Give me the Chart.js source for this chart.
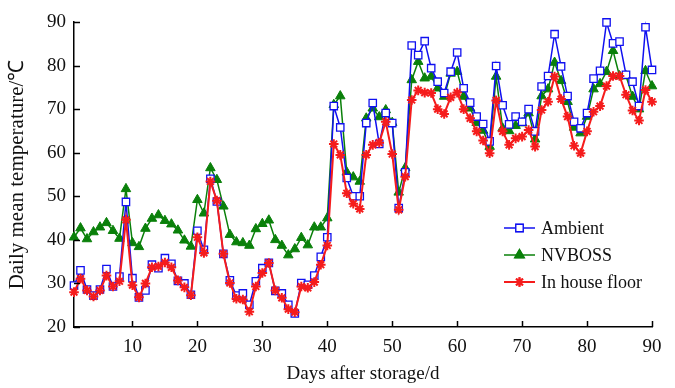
<!DOCTYPE html>
<html>
<head>
<meta charset="utf-8">
<script src="https://cdn.jsdelivr.net/npm/chart.js@4/dist/chart.umd.min.js"></script>
<style>
  html, body { margin: 0; padding: 0; background: #fff; }
  #wrap { width: 675px; height: 388px; }
</style>
</head>
<body>
<div id="wrap"><canvas id="graficLine"></canvas></div>
<script>
var days = [1,2,3,4,5,6,7,8,9,10,11,12,13,14,15,16,17,18,19,20,
  21,22,23,24,25,26,27,28,29,30,31,32,33,34,35,36,37,38,39,40,
  41,42,43,44,45,46,47,48,49,50,51,52,53,54,55,56,57,58,59,60,
  61,62,63,64,65,66,67,68,69,70,71,72,73,74,75,76,77,78,79,80,
  81,82,83,84,85,86,87,88,89,90];

var ambient = [29.5,33.0,28.6,27.2,28.6,33.3,29.3,31.6,48.7,31.2,
  26.8,28.4,34.3,33.5,35.8,34.5,30.6,30.0,27.4,42.1,
  37.7,54.0,48.8,36.8,30.7,27.2,27.7,25.1,30.5,33.5,
  34.7,28.3,27.7,25.1,23.1,30.1,29.7,31.8,36.1,40.6,
  70.7,65.8,54.2,50.0,50.0,66.8,71.4,62.0,69.1,66.8,
  47.3,55.5,84.6,82.4,85.6,79.4,76.3,73.7,78.6,83.0,
  74.8,71.5,68.3,66.6,62.6,79.9,70.9,66.5,68.3,67.1,
  70.0,64.9,75.2,77.6,87.2,79.8,73.0,67.1,65.6,69.1,
  77.0,78.8,89.9,85.1,85.5,77.9,76.3,70.7,88.8,79.0];

var nvboss = [40.6,42.7,40.2,41.8,42.9,43.9,42.1,40.3,51.7,39.3,
  38.4,42.6,44.9,45.7,44.4,43.6,42.2,39.9,38.5,49.2,
  46.1,56.5,53.8,47.7,41.2,39.5,39.3,38.7,42.5,43.7,
  44.5,40.0,38.7,36.5,37.9,40.5,38.8,42.9,42.9,45.0,
  71.0,73.0,55.5,54.4,53.4,67.9,70.2,68.2,69.8,66.9,
  50.9,56.5,76.7,80.9,77.1,77.5,74.8,72.9,78.2,78.6,
  72.9,70.2,66.9,65.1,61.4,77.5,65.6,65.0,66.2,66.8,
  69.1,63.1,73.0,74.6,80.7,76.5,71.7,65.8,64.5,68.3,
  74.6,75.8,78.6,83.4,77.6,77.6,72.9,70.0,78.8,75.3];

var houseFloor = [28.0,31.1,28.4,27.0,28.4,31.8,29.3,30.5,44.6,29.6,
  26.8,30.0,33.7,33.9,34.8,33.7,30.7,29.1,27.3,40.6,
  37.0,53.4,49.0,36.8,30.1,26.5,26.3,23.5,29.3,32.4,
  34.7,28.4,26.7,24.1,23.4,29.3,29.0,30.3,34.3,38.7,
  62.0,59.5,50.7,48.3,47.1,59.5,61.8,62.3,67.1,59.7,
  46.9,54.5,72.1,74.3,73.8,73.7,70.0,68.9,72.7,73.8,
  70.0,67.9,64.9,62.8,59.9,72.0,64.9,61.8,63.3,63.7,
  65.2,61.4,69.8,71.7,77.5,72.3,68.3,61.6,59.9,64.9,
  69.4,70.7,75.3,77.6,77.6,73.3,69.7,67.4,74.4,71.7];

var seriesNames = ['Ambient', 'NVBOSS', 'In house floor'];

function toPoints(values) {
  return values.map(function(v, i){ return {x: days[i], y: v}; });
}

var serif = '"Liberation Serif", "Times New Roman", serif';

// ticks on the inside of the axes, like the original figure
var innerTicks = {
  id: 'innerTicks',
  afterDraw: function(chart) {
    var ctx = chart.ctx;
    var xs = chart.scales.x, ys = chart.scales.y;
    var area = chart.chartArea;
    ctx.save();
    ctx.strokeStyle = '#000';
    ctx.lineWidth = 1.5;
    xs.ticks.forEach(function(t){
      var px = Math.round(xs.getPixelForValue(t.value)) + 0.5;
      ctx.beginPath();
      ctx.moveTo(px, area.bottom);
      ctx.lineTo(px, area.bottom - 6);
      ctx.stroke();
    });
    ys.ticks.forEach(function(t){
      var py = Math.round(ys.getPixelForValue(t.value)) + 0.5;
      ctx.beginPath();
      ctx.moveTo(area.left, py);
      ctx.lineTo(area.left + 6, py);
      ctx.stroke();
    });
    ctx.restore();
  }
};

// legend drawn inside the plot, lower right
var insideLegend = {
  id: 'insideLegend',
  afterDraw: function(chart) {
    var ctx = chart.ctx;
    var x0 = 504, x1 = 535, y = 228, step = 27;
    var order = [0, 1, 2];
    ctx.save();
    ctx.font = '18px ' + serif;
    ctx.textBaseline = 'middle';
    order.forEach(function(i, k){
      var ds = chart.data.datasets[i];
      var yy = y + k * step;
      ctx.strokeStyle = ds.borderColor;
      ctx.lineWidth = ds.borderWidth;
      ctx.beginPath();
      ctx.moveTo(x0, yy);
      ctx.lineTo(x1, yy);
      ctx.stroke();
      Chart.helpers.drawPoint(ctx, {
        pointStyle: ds.pointStyle,
        radius: ds.pointRadius,
        borderWidth: ds.pointBorderWidth
      }, (x0 + x1) / 2, yy);
      ctx.fillStyle = ds.pointBackgroundColor;
      ctx.strokeStyle = ds.pointBorderColor;
      ctx.lineWidth = ds.pointBorderWidth;
      ctx.fill();
      ctx.stroke();
      ctx.fillStyle = '#111';
      ctx.fillText(ds.label, x1 + 6, yy + 1);
    });
    ctx.restore();
  }
};

var grafic = document.getElementById('graficLine');

var cxt = new Chart(grafic, {
  type: 'line',
  data: {
    datasets: [
      {
        label: seriesNames[0],
        data: toPoints(ambient),
        borderColor: '#1010f0',
        borderWidth: 1.5,
        pointStyle: 'rect',
        pointRadius: 5.2,
        pointBorderWidth: 1.3,
        pointBorderColor: '#1010f0',
        pointBackgroundColor: '#ffffff',
        clip: 10,
        order: 1
      },
      {
        label: seriesNames[1],
        data: toPoints(nvboss),
        borderColor: '#0a800a',
        borderWidth: 1.5,
        pointStyle: 'triangle',
        pointRadius: 5.5,
        pointBorderWidth: 1,
        pointBorderColor: '#0a800a',
        pointBackgroundColor: '#0a800a',
        clip: 10,
        order: 2
      },
      {
        label: seriesNames[2],
        data: toPoints(houseFloor),
        borderColor: '#f51c1c',
        borderWidth: 2,
        pointStyle: 'star',
        pointRadius: 4.8,
        pointBorderWidth: 2,
        pointBorderColor: '#f51c1c',
        pointBackgroundColor: '#f51c1c',
        clip: 10,
        order: 0
      }
    ]
  },
  options: {
    responsive: true,
    maintainAspectRatio: false,
    animation: false,
    events: [],
    layout: { padding: { left: 0, right: 23, top: 22, bottom: 0 } },
    elements: { line: { tension: 0 } },
    plugins: {
      legend: { display: false },
      tooltip: { enabled: false }
    },
    scales: {
      x: {
        type: 'linear',
        min: 1,
        max: 90,
        afterFit: function(s){ s.height = 61; },
        grid: { display: false, drawTicks: false },
        border: { display: true, color: '#000', width: 1.5 },
        ticks: {
          stepSize: 10,
          includeBounds: false,
          padding: 9,
          color: '#111',
          font: { family: serif, size: 19 }
        },
        title: {
          display: true,
          text: 'Days after storage/d',
          color: '#111',
          padding: { top: 0, bottom: 3 },
          font: { family: serif, size: 19 }
        }
      },
      y: {
        min: 20,
        max: 90,
        afterFit: function(s){ s.width = 74; },
        grid: { display: false, drawTicks: false },
        border: { display: true, color: '#000', width: 1.5 },
        ticks: {
          stepSize: 10,
          padding: 8,
          color: '#111',
          font: { family: serif, size: 19 }
        },
        title: {
          display: true,
          text: 'Daily mean temperature/\u2103',
          color: '#111',
          padding: { top: 5, bottom: 0 },
          font: { family: serif, size: 21 }
        }
      }
    }
  },
  plugins: [innerTicks, insideLegend]
});
</script>
</body>
</html>
